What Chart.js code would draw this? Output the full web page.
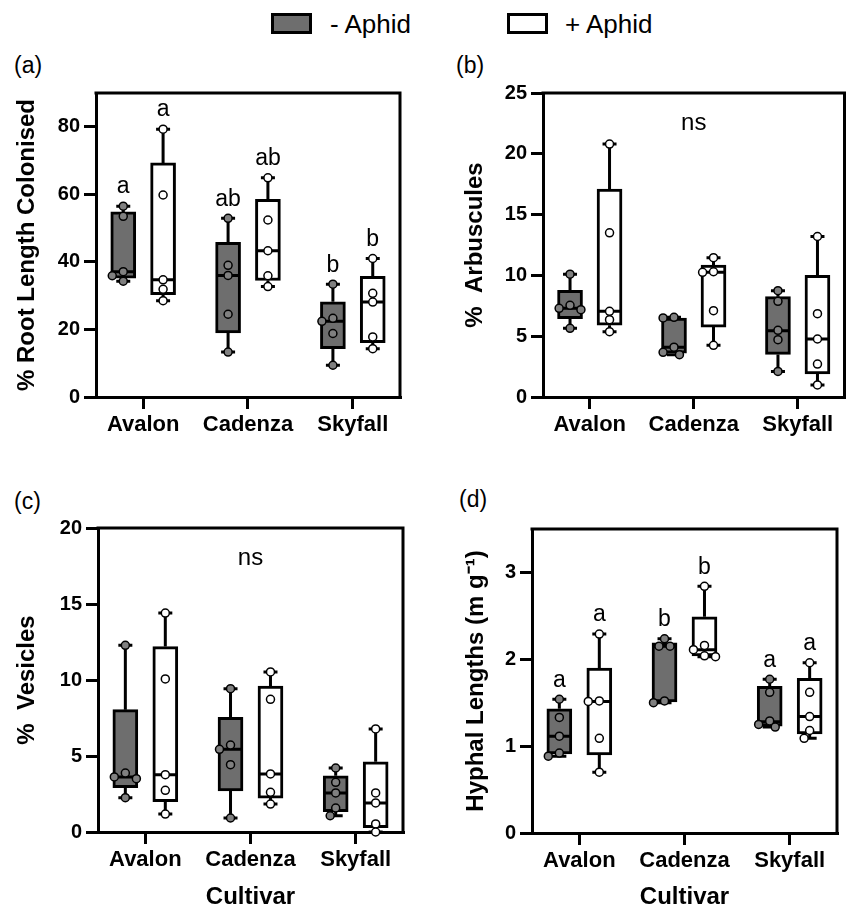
<!DOCTYPE html>
<html><head><meta charset="utf-8">
<script src="https://cdn.jsdelivr.net/npm/chart.js@4.4.1/dist/chart.umd.min.js"></script>
<style>
html,body{margin:0;padding:0;background:#fff}
body{width:850px;height:915px;position:relative;overflow:hidden;font-family:'Liberation Sans',Arial,sans-serif;color:#000}
canvas{position:absolute}
.lbl{position:absolute;font-size:23px;line-height:23px;white-space:nowrap}
.sw{position:absolute;box-sizing:border-box;border:3px solid #000;width:41px;height:21px}
.lt{position:absolute;font-size:26px;line-height:26px;white-space:nowrap}
</style></head><body>
<div id="legend"></div>
<div class="lbl" style="left:14px;top:54px">(a)</div>
<div class="lbl" style="left:456px;top:54px">(b)</div>
<div class="lbl" style="left:14px;top:490px">(c)</div>
<div class="lbl" style="left:459px;top:488px">(d)</div>
<canvas id="ca" width="425" height="430" style="left:0;top:45px"></canvas>
<canvas id="cb" width="425" height="430" style="left:425px;top:45px"></canvas>
<canvas id="cc" width="425" height="435" style="left:0;top:480px"></canvas>
<canvas id="cd" width="425" height="435" style="left:425px;top:480px"></canvas>
<script>
// ---------------- data ----------------
const cultivars = ['Avalon', 'Cadenza', 'Skyfall'];
const groups = ['- Aphid', '+ Aphid'];
const xTitle = 'Cultivar';

// box stats per cultivar: [min, Q1, median, Q3, max]
// (a) % Root Length Colonised
const rlcTitle = '% Root Length Colonised';
const rlcTicks = [0, 20, 40, 60, 80];
const rlcMax = 90;
const rlcMinusBox = [[34.3, 35.2, 37.1, 54.8, 56.5], [13.3, 19.0, 36.0, 45.8, 52.9], [9.4, 14.3, 22.4, 28.2, 33.4]];
const rlcPlusBox  = [[28.5, 30.3, 34.7, 69.3, 79.3], [32.7, 34.5, 43.3, 58.5, 64.9], [14.3, 16.1, 28.1, 35.7, 41.0]];
const rlcMinusPts = [[56.5, 53.5, 37.1, 35.9, 34.3], [52.9, 39.0, 36.0, 24.5, 13.3], [33.4, 23.3, 22.4, 18.8, 9.4]];
const rlcPlusPts  = [[79.3, 59.8, 34.7, 31.9, 28.5], [64.9, 52.4, 43.3, 35.9, 32.7], [41.0, 30.7, 28.1, 17.8, 14.3]];
const rlcMinusLetters = ['a', 'ab', 'b'];
const rlcPlusLetters  = ['a', 'ab', 'b'];

// (b) % Arbuscules
const arbTitle = '%  Arbuscules';
const arbTicks = [0, 5, 10, 15, 20, 25];
const arbMax = 25;
const arbMinusBox = [[5.65, 6.45, 7.29, 8.78, 10.1], [3.48, 3.6, 4.1, 6.5, 6.55], [2.1, 3.5, 5.45, 8.25, 8.74]];
const arbPlusBox  = [[5.37, 5.9, 7.05, 17.1, 20.8], [4.25, 5.75, 10.25, 10.85, 11.46], [0.99, 1.9, 4.77, 10.0, 13.2]];
const arbMinusPts = [[10.1, 7.54, 7.29, 7.18, 5.65], [6.55, 6.5, 4.1, 3.67, 3.48], [8.74, 7.87, 5.48, 4.71, 2.1]];
const arbPlusPts  = [[20.8, 13.5, 7.05, 6.36, 5.37], [11.46, 10.3, 10.25, 7.1, 4.25], [13.2, 6.85, 4.77, 2.71, 0.99]];
const arbNote = 'ns';

// (c) % Vesicles
const vesTitle = '%  Vesicles';
const vesTicks = [0, 5, 10, 15, 20];
const vesMax = 20;
const vesMinusBox = [[2.26, 2.92, 3.62, 8.05, 12.28], [0.92, 2.7, 5.44, 7.55, 9.43], [1.07, 1.34, 2.57, 3.7, 4.21]];
const vesPlusBox  = [[1.18, 2.0, 3.77, 12.2, 14.4], [1.84, 2.23, 3.82, 9.6, 10.53], [0.0, 0.28, 1.91, 4.62, 6.78]];
const vesMinusPts = [[12.28, 3.88, 3.62, 3.51, 2.26], [9.43, 5.72, 5.44, 4.43, 0.92], [4.21, 3.27, 2.57, 1.58, 1.07]];
const vesPlusPts  = [[14.4, 10.07, 3.77, 2.74, 1.18], [10.53, 8.73, 3.82, 2.61, 1.84], [6.78, 2.57, 1.91, 0.53, 0.0]];
const vesNote = 'ns';

// (d) Hyphal Lengths (m g-1)
const hypTitle = 'Hyphal Lengths (m g\u207B\u00B9)';
const hypTicks = [0, 1, 2, 3];
const hypMax = 3.5;
const hypMinusBox = [[0.885, 0.91, 1.115, 1.43, 1.54], [1.5, 1.51, 2.15, 2.19, 2.235], [1.22, 1.23, 1.28, 1.69, 1.77]];
const hypPlusBox  = [[0.70, 0.9, 1.515, 1.9, 2.29], [2.03, 2.04, 2.11, 2.49, 2.84], [1.09, 1.14, 1.34, 1.78, 1.96]];
const hypMinusPts = [[1.54, 1.33, 1.115, 0.92, 0.885], [2.235, 2.15, 2.15, 1.52, 1.5], [1.77, 1.62, 1.29, 1.25, 1.22]];
const hypPlusPts  = [[2.29, 1.52, 1.515, 1.09, 0.70], [2.84, 2.16, 2.11, 2.04, 2.03], [1.96, 1.62, 1.34, 1.18, 1.09]];
const hypMinusLetters = ['a', 'b', 'a'];
const hypPlusLetters  = ['a', 'b', 'a'];

// ---------------- style ----------------
const GRAY = '#6e6e6e';
const PTGRAY = '#808080';
const FONT = "'Liberation Sans', Arial, sans-serif";
Chart.defaults.font.family = FONT;
Chart.defaults.color = '#000';

// legend (HTML)
(function () {
  const lg = document.getElementById('legend');
  const fills = [GRAY, '#fff'];
  const boxX = [271, 507], txtX = [330, 565];
  groups.forEach((g, i) => {
    const b = document.createElement('div');
    b.className = 'sw'; b.style.left = boxX[i] + 'px'; b.style.top = '13px'; b.style.background = fills[i];
    lg.appendChild(b);
    const t = document.createElement('div');
    t.className = 'lt'; t.style.left = txtX[i] + 'px'; t.style.top = '11px'; t.textContent = g;
    lg.appendChild(t);
  });
})();

function swarm(vals, pxPerY) {
  const placed = [];
  const d = 8, step = 5.5;
  const cands = [0, -step, step, -2 * step, 2 * step, -3 * step, 3 * step];
  return vals.map(v => {
    const py = v * pxPerY;
    let off = cands[cands.length - 1];
    for (const c of cands) {
      if (placed.every(p => Math.hypot(p[0] - c, p[1] - py) >= d)) { off = c; break; }
    }
    placed.push([off, py]);
    return off;
  });
}

const boxPlugin = {
  id: 'boxExtras',
  afterDatasetDraw(chart, args) {
    const ds = chart.data.datasets[args.index];
    if (!ds.boxStats) return;
    const ctx = chart.ctx, y = chart.scales.y;
    ctx.save();
    ctx.strokeStyle = '#000';
    ctx.lineWidth = 3;
    ctx.lineCap = 'butt';
    args.meta.data.forEach((el, i) => {
      const [mn, q1, md, q3, mx] = ds.boxStats[i];
      const x = el.x, w = el.width;
      const cap = 7;
      ctx.beginPath();
      ctx.moveTo(x, y.getPixelForValue(q3)); ctx.lineTo(x, y.getPixelForValue(mx));
      ctx.moveTo(x, y.getPixelForValue(q1)); ctx.lineTo(x, y.getPixelForValue(mn));
      ctx.moveTo(x - cap, y.getPixelForValue(mx)); ctx.lineTo(x + cap, y.getPixelForValue(mx));
      ctx.moveTo(x - cap, y.getPixelForValue(mn)); ctx.lineTo(x + cap, y.getPixelForValue(mn));
      ctx.moveTo(x - w / 2 + 1.5, y.getPixelForValue(md)); ctx.lineTo(x + w / 2 - 1.5, y.getPixelForValue(md));
      ctx.stroke();
    });
    ctx.restore();
  },
  afterDraw(chart, args, opts) {
    const ctx = chart.ctx, a = chart.chartArea, y = chart.scales.y;
    ctx.save();
    ctx.strokeStyle = '#000';
    ctx.lineWidth = 3;
    ctx.beginPath();
    ctx.moveTo(a.left - 1.5, a.top); ctx.lineTo(a.right, a.top); ctx.lineTo(a.right, a.bottom + 1.5);
    ctx.stroke();
    ctx.fillStyle = '#000';
    ctx.textAlign = 'center';
    ctx.textBaseline = 'middle';
    ctx.font = '23px ' + FONT;
    chart.data.datasets.forEach((ds, di) => {
      if (!ds.letters) return;
      const meta = chart.getDatasetMeta(di);
      meta.data.forEach((el, i) => {
        ctx.fillText(ds.letters[i], el.x, y.getPixelForValue(ds.boxStats[i][4]) - 19);
      });
    });
    if (opts && opts.note) {
      ctx.font = '24px ' + FONT;
      ctx.fillText(opts.note, (a.left + a.right) / 2, a.top + 30);
    }
    ctx.restore();
  }
};

function makePanel(id, p) {
  const plotH = 304, xMin = -0.45, xMax = cultivars.length - 0.55;
  const pxPerCat = 304 / (xMax - xMin);
  const pxPerY = plotH / p.yMax;
  const grpOff = [-0.19, 0.19];
  const boxes = [p.minusBox, p.plusBox];
  const pts = [p.minusPts, p.plusPts];
  const letters = [p.minusLetters, p.plusLetters];
  const fills = [GRAY, '#ffffff'];
  const ptFills = [PTGRAY, '#ffffff'];
  const datasets = [];
  groups.forEach((g, gi) => {
    datasets.push({
      type: 'bar', label: g,
      data: boxes[gi].map((b, ci) => ({ x: ci + grpOff[gi], y: [b[1], b[3]] })),
      boxStats: boxes[gi], letters: letters[gi] || null,
      backgroundColor: fills[gi], borderColor: '#000', borderWidth: 3, borderSkipped: false,
      xAxisID: 'x', yAxisID: 'y', order: 2, grouped: false, barThickness: 25
    });
  });
  groups.forEach((g, gi) => {
    const data = [];
    pts[gi].forEach((vals, ci) => {
      const offs = swarm(vals, pxPerY);
      vals.forEach((v, k) => data.push({ x: ci + grpOff[gi] + offs[k] / pxPerCat, y: v }));
    });
    datasets.push({
      type: 'scatter', label: g + ' points', data, xAxisID: 'x', yAxisID: 'y', order: 1,
      pointRadius: 4, pointBackgroundColor: ptFills[gi], pointBorderColor: '#000',
      pointBorderWidth: 1.5, showLine: false, clip: false
    });
  });
  const xTitleOpt = p.xTitle ? { display: true, text: p.xTitle, font: { size: 24, weight: 'bold' }, padding: { top: 0, bottom: p.xTitlePad } } : { display: false };
  new Chart(document.getElementById(id), {
    type: 'bar',
    data: { datasets },
    options: {
      responsive: false, animation: false, events: [],
      layout: { padding: { left: 0, top: p.padTop, right: p.padRight, bottom: 0 } },
      plugins: { legend: { display: false }, tooltip: { enabled: false }, boxExtras: { note: p.note || null } },
      scales: {
        x: {
          type: 'linear', min: xMin, max: xMax, offset: false,
          grid: { display: true, drawOnChartArea: false, drawTicks: true, tickLength: 12, tickWidth: 3, tickColor: '#000', lineWidth: 3, offset: false },
          border: { display: true, width: 3, color: '#000' },
          afterBuildTicks(s) { s.ticks = cultivars.map((c, i) => ({ value: i })); },
          ticks: { font: { size: 22, weight: 'bold' }, padding: 3, maxRotation: 0, autoSkip: false, callback: (v) => cultivars[Math.round(v)] },
          title: xTitleOpt,
          afterFit(s) { s.height = p.xH; }
        },
        y: {
          type: 'linear', min: 0, max: p.yMax,
          grid: { display: true, drawOnChartArea: false, drawTicks: true, tickLength: 12, tickWidth: 3, tickColor: '#000', lineWidth: 3 },
          border: { display: true, width: 3, color: '#000' },
          ticks: { font: { size: 20, weight: 'bold' }, padding: 4 },
          afterBuildTicks(s) { s.ticks = p.ticks.map(v => ({ value: v })); },
          title: { display: true, text: p.yTitle, font: { size: 24, weight: 'bold' }, padding: { top: p.yTitlePad, bottom: 0 } },
          afterFit(s) { s.width = p.yW; }
        }
      }
    },
    plugins: [boxPlugin]
  });
}

makePanel('ca', { yTitle: rlcTitle, ticks: rlcTicks, yMax: rlcMax, minusBox: rlcMinusBox, plusBox: rlcPlusBox, minusPts: rlcMinusPts, plusPts: rlcPlusPts, minusLetters: rlcMinusLetters, plusLetters: rlcPlusLetters, yW: 96, padTop: 48, padRight: 25, xH: 78, yTitlePad: 12.5 });
makePanel('cb', { yTitle: arbTitle, ticks: arbTicks, yMax: arbMax, minusBox: arbMinusBox, plusBox: arbPlusBox, minusPts: arbMinusPts, plusPts: arbPlusPts, note: arbNote, yW: 118, padTop: 48, padRight: 3, xH: 78, yTitlePad: 35.5 });
makePanel('cc', { yTitle: vesTitle, ticks: vesTicks, yMax: vesMax, minusBox: vesMinusBox, plusBox: vesPlusBox, minusPts: vesMinusPts, plusPts: vesPlusPts, note: vesNote, xTitle: xTitle, xTitlePad: 3, yW: 98, padTop: 48, padRight: 22, xH: 83, yTitlePad: 12.5 });
makePanel('cd', { yTitle: hypTitle, ticks: hypTicks, yMax: hypMax, minusBox: hypMinusBox, plusBox: hypPlusBox, minusPts: hypMinusPts, plusPts: hypPlusPts, minusLetters: hypMinusLetters, plusLetters: hypPlusLetters, xTitle: xTitle, xTitlePad: 3, yW: 107, padTop: 49, padRight: 13, xH: 82, yTitlePad: 37 });
</script>
</body></html>
